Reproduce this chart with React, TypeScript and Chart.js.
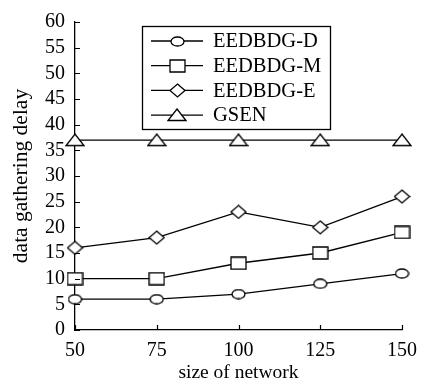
import React, { useEffect, useRef } from 'react';
import { Chart, registerables } from 'chart.js';

Chart.register(...registerables);

const networkSizes = [50, 75, 100, 125, 150];
const seriesLabels = ['EEDBDG-D', 'EEDBDG-M', 'EEDBDG-E', 'GSEN'];
const eedbdgD = [6, 6, 7, 9, 11];
const eedbdgM = [10, 10, 13, 15, 19];
const eedbdgE = [16, 18, 23, 20, 26];
const gsen = [37, 37, 37, 37, 37];
const xTickValues = [50, 75, 100, 125, 150];
const yTickValues = [0, 5, 10, 15, 20, 25, 30, 35, 40, 45, 50, 55, 60];
const xTitle = 'size of network';
const yTitle = 'data gathering delay';

const FONT = '"Liberation Serif", "Times New Roman", serif';

function makeMarker(kind: string): HTMLCanvasElement {
  const c = document.createElement('canvas');
  let w = 15, h = 11;
  if (kind === 'square') { w = 17; h = 14; }
  if (kind === 'diamond') { w = 17; h = 15; }
  if (kind === 'triangle') { w = 20; h = 14; }
  c.width = w; c.height = h;
  const ctx = c.getContext('2d')!;
  ctx.fillStyle = '#fff';
  ctx.strokeStyle = '#000';
  ctx.lineWidth = 1.3;
  ctx.beginPath();
  if (kind === 'circle') {
    ctx.ellipse(w / 2, h / 2, w / 2 - 1, h / 2 - 1, 0, 0, Math.PI * 2);
  } else if (kind === 'square') {
    ctx.rect(1, 1, w - 2, h - 2);
  } else if (kind === 'diamond') {
    ctx.moveTo(w / 2, 1);
    ctx.lineTo(w - 1, h / 2);
    ctx.lineTo(w / 2, h - 1);
    ctx.lineTo(1, h / 2);
    ctx.closePath();
  } else {
    ctx.moveTo(w / 2, 1);
    ctx.lineTo(w - 1, h - 1.5);
    ctx.lineTo(1, h - 1.5);
    ctx.closePath();
  }
  ctx.fill();
  ctx.stroke();
  return c;
}

export default function App() {
  const ref = useRef<HTMLCanvasElement | null>(null);

  useEffect(() => {
    document.body.style.margin = '0';
    const canvas = ref.current;
    if (!canvas) return;
    const kinds = ['circle', 'square', 'diamond', 'triangle'];
    const markers = kinds.map(makeMarker);
    const seriesValues = [eedbdgD, eedbdgM, eedbdgE, gsen];

    const datasets = seriesValues.map((vals, i) => ({
      label: seriesLabels[i],
      data: vals.map((v, j) => ({ x: networkSizes[j], y: v })),
      borderColor: '#000',
      borderWidth: 1.3,
      backgroundColor: '#fff',
      pointStyle: markers[i] as any,
      pointRadius: 7,
      tension: 0,
      clip: false as any,
      fill: false,
    }));

    const customPlugin = {
      id: 'custom',
      afterDraw(chart: any) {
        const ctx = chart.ctx as CanvasRenderingContext2D;
        const area = chart.chartArea;
        const xs = chart.scales.x;
        const ys = chart.scales.y;
        ctx.save();
        ctx.strokeStyle = '#000';
        ctx.lineWidth = 1.2;
        ctx.beginPath();
        yTickValues.forEach((v) => {
          const py = Math.round(ys.getPixelForValue(v)) + 0.5;
          ctx.moveTo(area.left, py);
          ctx.lineTo(area.left + 5, py);
        });
        xTickValues.forEach((v) => {
          const px = Math.round(xs.getPixelForValue(v)) + 0.5;
          ctx.moveTo(px, area.bottom);
          ctx.lineTo(px, area.bottom - 5);
        });
        ctx.stroke();

        const bx = 142, by = 26, bw = 188, bh = 103;
        ctx.fillStyle = '#fff';
        ctx.fillRect(bx, by, bw, bh);
        ctx.lineWidth = 1.3;
        ctx.strokeRect(bx + 0.5, by + 0.5, bw, bh);
        ctx.font = '20.5px ' + FONT;
        ctx.textBaseline = 'middle';
        ctx.textAlign = 'left';
        seriesLabels.forEach((lab, i) => {
          const ry = by + 15 + i * 24.7;
          ctx.beginPath();
          ctx.moveTo(151, ry);
          ctx.lineTo(203, ry);
          ctx.stroke();
          const m = markers[i];
          ctx.drawImage(m, Math.round(177 - m.width / 2), Math.round(ry - m.height / 2));
          ctx.fillStyle = '#000';
          ctx.fillText(lab, 213, ry + 1);
        });
        ctx.restore();
      },
    };

    const chart = new Chart(canvas, {
      type: 'line',
      data: { datasets: datasets as any },
      options: {
        responsive: false,
        animation: false,
        layout: { padding: { top: 21, right: 20, left: 0, bottom: 0 } },
        plugins: {
          legend: { display: false },
          tooltip: { enabled: false },
        },
        scales: {
          x: {
            type: 'linear',
            min: 50,
            max: 150,
            afterBuildTicks: (s: any) => {
              s.ticks = xTickValues.map((v) => ({ value: v }));
            },
            afterFit: (s: any) => {
              s.height = 58;
            },
            grid: { display: false, drawTicks: false },
            border: { display: true, color: '#000', width: 1.3 },
            ticks: {
              color: '#000',
              padding: 9,
              autoSkip: false,
              font: { family: FONT, size: 20 },
              maxRotation: 0,
            },
            title: {
              display: true,
              text: xTitle,
              color: '#000',
              font: { family: FONT, size: 19.5 },
              padding: { top: 0, bottom: 3 },
            },
          },
          y: {
            type: 'linear',
            min: 0,
            max: 60,
            afterBuildTicks: (s: any) => {
              s.ticks = yTickValues.map((v) => ({ value: v }));
            },
            afterFit: (s: any) => {
              s.width = 75;
            },
            grid: { display: false, drawTicks: false },
            border: { display: true, color: '#000', width: 1.3 },
            ticks: {
              color: '#000',
              padding: 10,
              autoSkip: false,
              font: { family: FONT, size: 20 },
            },
            title: {
              display: true,
              text: yTitle,
              color: '#000',
              font: { family: FONT, size: 21.5 },
              padding: { top: 8, bottom: 0 },
            },
          },
        },
      },
      plugins: [customPlugin],
    });

    return () => chart.destroy();
  }, []);

  return (
    <div style={{ width: 426, height: 388, background: '#fff' }}>
      <canvas ref={ref} width={426} height={388} style={{ width: 426, height: 388, display: 'block' }} />
    </div>
  );
}
